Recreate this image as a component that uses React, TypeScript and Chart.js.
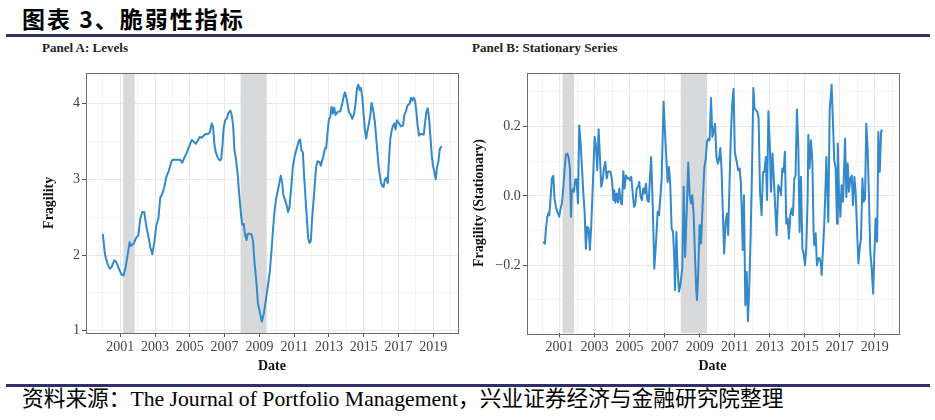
import React, { useEffect, useRef } from "react";
import { Chart, registerables } from "chart.js";

Chart.register(...registerables);

// ---------- Data ----------
const levelDates = [
  2000.0, 2000.12, 2000.27, 2000.39, 2000.5, 2000.65, 2000.77, 2000.92, 2001.08, 2001.19,
  2001.31, 2001.42, 2001.54, 2001.61, 2001.77, 2001.92, 2002.04, 2002.15, 2002.27, 2002.38,
  2002.5, 2002.61, 2002.73, 2002.84, 2002.96, 2003.07, 2003.19, 2003.3, 2003.42, 2003.53,
  2003.65, 2003.8, 2003.96, 2004.07, 2004.22, 2004.38, 2004.49, 2004.57, 2004.69, 2004.8,
  2004.95, 2005.11, 2005.22, 2005.34, 2005.45, 2005.57, 2005.68, 2005.8, 2005.91, 2006.03,
  2006.15, 2006.26, 2006.34, 2006.41, 2006.49, 2006.6, 2006.72, 2006.8, 2006.87, 2006.95,
  2007.03, 2007.14, 2007.22, 2007.33, 2007.41, 2007.49, 2007.56, 2007.64, 2007.76, 2007.83,
  2007.95, 2008.02, 2008.1, 2008.18, 2008.26, 2008.33, 2008.45, 2008.56, 2008.64, 2008.72,
  2008.83, 2008.91, 2009.02, 2009.14, 2009.25, 2009.37, 2009.48, 2009.6, 2009.71, 2009.81,
  2009.88, 2009.96, 2010.04, 2010.12, 2010.23, 2010.31, 2010.38, 2010.5, 2010.58, 2010.65,
  2010.73, 2010.84, 2010.92, 2011.04, 2011.15, 2011.27, 2011.34, 2011.42, 2011.5, 2011.57,
  2011.65, 2011.73, 2011.8, 2011.88, 2011.96, 2012.03, 2012.15, 2012.26, 2012.34, 2012.46,
  2012.53, 2012.61, 2012.69, 2012.77, 2012.84, 2012.92, 2013.0, 2013.07, 2013.15, 2013.22,
  2013.3, 2013.38, 2013.49, 2013.65, 2013.76, 2013.84, 2013.92, 2013.99, 2014.07, 2014.15,
  2014.26, 2014.34, 2014.45, 2014.53, 2014.61, 2014.69, 2014.76, 2014.84, 2014.92, 2014.99,
  2015.07, 2015.14, 2015.22, 2015.3, 2015.38, 2015.45, 2015.53, 2015.64, 2015.72, 2015.8,
  2015.87, 2015.99, 2016.07, 2016.14, 2016.22, 2016.3, 2016.38, 2016.45, 2016.53, 2016.61,
  2016.68, 2016.76, 2016.83, 2016.91, 2017.03, 2017.14, 2017.26, 2017.33, 2017.41, 2017.52,
  2017.64, 2017.72, 2017.8, 2017.87, 2017.95, 2018.02, 2018.1, 2018.18, 2018.26, 2018.33,
  2018.45, 2018.53, 2018.6, 2018.68, 2018.76, 2018.83, 2018.91, 2018.98, 2019.06, 2019.14,
  2019.21, 2019.29, 2019.37, 2019.45,
];
const levelValues = [
  2.27, 2.01, 1.88, 1.82, 1.84, 1.93, 1.91, 1.82, 1.74, 1.73,
  1.84, 2.0, 2.17, 2.12, 2.15, 2.23, 2.26, 2.48, 2.57, 2.57,
  2.37, 2.26, 2.1, 2.01, 2.17, 2.39, 2.48, 2.76, 2.81, 2.9,
  3.03, 3.12, 3.25, 3.26, 3.26, 3.26, 3.25, 3.22, 3.29, 3.34,
  3.43, 3.52, 3.5, 3.47, 3.51, 3.56, 3.55, 3.58, 3.6, 3.6,
  3.62, 3.74, 3.69, 3.47, 3.36, 3.29, 3.25, 3.26, 3.43, 3.69,
  3.78, 3.81, 3.88, 3.91, 3.85, 3.71, 3.4, 3.29, 3.05, 2.83,
  2.52, 2.4, 2.41, 2.26, 2.2, 2.28, 2.28, 2.27, 2.17, 1.9,
  1.64, 1.37, 1.25, 1.12, 1.22, 1.4, 1.58, 1.78, 2.1, 2.42,
  2.6, 2.74, 2.83, 2.92, 3.05, 2.96, 2.79, 2.71, 2.65, 2.57,
  2.63, 2.92, 3.16, 3.32, 3.41, 3.51, 3.53, 3.38, 3.36, 3.05,
  2.76, 2.48, 2.23, 2.16, 2.19, 2.48, 2.83, 3.16, 3.24, 3.23,
  3.18, 3.25, 3.32, 3.41, 3.41, 3.62, 3.8, 3.82, 3.96, 3.87,
  3.95, 3.85, 3.89, 3.9, 4.0, 4.09, 4.15, 4.09, 4.0, 3.89,
  3.85, 3.8, 3.87, 4.0, 4.2, 4.25, 4.18, 4.21, 4.07, 3.87,
  3.65, 3.54, 3.65, 3.74, 3.85, 4.01, 3.93, 3.76, 3.54, 3.32,
  3.14, 2.96, 2.91, 2.9, 3.0, 3.02, 2.95, 3.27, 3.54, 3.65,
  3.71, 3.74, 3.66, 3.78, 3.74, 3.7, 3.71, 3.85, 3.89, 3.98,
  4.0, 4.08, 4.04, 4.08, 4.04, 3.91, 3.71, 3.58, 3.6, 3.6,
  3.59, 3.76, 3.89, 3.94, 3.8, 3.58, 3.32, 3.18, 3.1, 3.0,
  3.16, 3.23, 3.4, 3.43,
];

const statDates = [
  2000.1, 2000.16, 2000.22, 2000.3, 2000.37, 2000.41, 2000.49, 2000.56, 2000.64, 2000.71,
  2000.79, 2000.87, 2000.98, 2001.06, 2001.13, 2001.21, 2001.29, 2001.36, 2001.44, 2001.51,
  2001.59, 2001.65, 2001.7, 2001.78, 2001.82, 2001.9, 2001.97, 2002.05, 2002.12, 2002.2,
  2002.28, 2002.35, 2002.43, 2002.5, 2002.58, 2002.66, 2002.73, 2002.81, 2002.89, 2003.0,
  2003.08, 2003.15, 2003.23, 2003.3, 2003.38, 2003.46, 2003.53, 2003.61, 2003.69, 2003.76,
  2003.84, 2003.91, 2003.99, 2004.07, 2004.12, 2004.18, 2004.26, 2004.33, 2004.41, 2004.49,
  2004.56, 2004.64, 2004.71, 2004.79, 2004.87, 2004.94, 2005.02, 2005.09, 2005.17, 2005.25,
  2005.32, 2005.4, 2005.48, 2005.55, 2005.63, 2005.7, 2005.78, 2005.86, 2005.93, 2006.01,
  2006.09, 2006.16, 2006.23, 2006.32, 2006.41, 2006.52, 2006.6, 2006.68, 2006.75, 2006.83,
  2006.94, 2007.02, 2007.1, 2007.17, 2007.25, 2007.32, 2007.4, 2007.48, 2007.55, 2007.59,
  2007.67, 2007.74, 2007.82, 2007.9, 2008.01, 2008.09, 2008.17, 2008.28, 2008.35, 2008.43,
  2008.51, 2008.58, 2008.66, 2008.74, 2008.81, 2008.85, 2008.92, 2009.0, 2009.08, 2009.19,
  2009.27, 2009.35, 2009.42, 2009.5, 2009.57, 2009.65, 2009.73, 2009.81, 2009.88, 2009.96,
  2010.04, 2010.1, 2010.18, 2010.25, 2010.33, 2010.4, 2010.48, 2010.56, 2010.63, 2010.71,
  2010.78, 2010.86, 2010.94, 2011.01, 2011.12, 2011.2, 2011.29, 2011.35, 2011.42, 2011.46,
  2011.53, 2011.61, 2011.69, 2011.76, 2011.84, 2011.91, 2011.99, 2012.07, 2012.14, 2012.22,
  2012.3, 2012.37, 2012.45, 2012.54, 2012.62, 2012.7, 2012.78, 2012.85, 2012.93, 2013.01,
  2013.08, 2013.16, 2013.24, 2013.31, 2013.4, 2013.49, 2013.57, 2013.65, 2013.72, 2013.8,
  2013.87, 2013.95, 2014.03, 2014.1, 2014.18, 2014.26, 2014.33, 2014.41, 2014.48, 2014.56,
  2014.64, 2014.71, 2014.79, 2014.87, 2014.94, 2015.02, 2015.09, 2015.17, 2015.21, 2015.28,
  2015.36, 2015.44, 2015.51, 2015.55, 2015.63, 2015.7, 2015.78, 2015.86, 2015.93, 2015.97,
  2016.05, 2016.12, 2016.2, 2016.24, 2016.31, 2016.35, 2016.43, 2016.5, 2016.54, 2016.62,
  2016.69, 2016.77, 2016.85, 2016.89, 2016.96, 2017.04, 2017.11, 2017.19, 2017.27, 2017.31,
  2017.38, 2017.46, 2017.53, 2017.61, 2017.69, 2017.76, 2017.84, 2017.91, 2017.99, 2018.07,
  2018.14, 2018.22, 2018.3, 2018.37, 2018.45, 2018.52, 2018.6, 2018.68, 2018.75, 2018.83,
  2018.91, 2018.98, 2019.06, 2019.14, 2019.21, 2019.29, 2019.37, 2019.4,
];
const statValues = [
  -0.134, -0.138, -0.094, -0.06, -0.048, -0.056, -0.003, 0.05, 0.058, -0.008,
  -0.032, -0.046, -0.06, -0.035, -0.022, 0.021, 0.079, 0.119, 0.122, 0.112,
  0.079, -0.06, 0.012, 0.021, 0.012, 0.048, 0.048, -0.022, 0.203, 0.151,
  0.079, 0.012, -0.046, -0.152, -0.089, -0.094, -0.156, -0.084, 0.021, 0.17,
  0.141, 0.074, 0.192, 0.117, 0.026, 0.045, 0.079, 0.098, 0.05, 0.069,
  0.071, 0.069, 0.048, -0.012, 0.016, -0.019, 0.007, -0.019, 0.021, -0.017,
  -0.025, 0.071, 0.021, 0.059, 0.05, 0.052, 0.045, 0.055, 0.012, -0.032,
  -0.027, 0.021, 0.026, 0.04, -0.003, -0.012, 0.021, 0.007, 0.035, -0.012,
  -0.017, 0.05, 0.112, -0.027, -0.21, -0.123, -0.046, -0.056, -0.008, 0.05,
  0.272, 0.184, 0.107, 0.04, 0.083, 0.035, -0.094, -0.104, -0.18, -0.271,
  -0.104, -0.209, -0.276, -0.257, -0.209, 0.026, -0.176, -0.017, 0.096, 0.002,
  -0.022, 0.002, -0.056, -0.18, -0.276, -0.3, -0.219, -0.084, -0.137, -0.003,
  0.083, 0.107, 0.155, 0.165, 0.16, 0.282, 0.17, 0.189, 0.208, 0.112,
  0.093, 0.103, 0.138, 0.079, -0.056, -0.166, -0.075, -0.051, -0.113, 0.04,
  0.165, 0.266, 0.309, 0.127, 0.098, 0.074, 0.079, 0.04, -0.065, -0.156,
  0.002, -0.315, -0.219, -0.361, -0.257, -0.123, 0.069, 0.311, 0.251, 0.247,
  0.242, 0.223, 0.012, -0.056, 0.069, 0.069, 0.112, -0.012, 0.244, 0.146,
  0.012, 0.122, 0.05, -0.027, -0.113, 0.031, 0.021, 0.002, 0.079, 0.069,
  0.127, -0.08, -0.065, -0.123, -0.056, -0.036, -0.056, 0.05, 0.059, 0.249,
  0.136, -0.104, 0.055, -0.152, -0.166, -0.2, -0.152, -0.008, 0.176, 0.079,
  0.16, 0.098, -0.104, -0.142, -0.108, -0.2, -0.18, -0.18, -0.195, -0.228,
  -0.152, -0.084, 0.04, 0.112, -0.003, -0.075, 0.247, 0.29, 0.32, 0.208,
  0.103, 0.079, -0.08, 0.151, 0.012, -0.06, 0.031, -0.017, 0.103, 0.165,
  -0.003, 0.093, 0.012, 0.05, 0.059, -0.027, 0.055, 0.012, -0.094, -0.195,
  -0.152, -0.123, 0.05, -0.017, -0.008, 0.208, 0.136, -0.017, -0.161, -0.209,
  -0.281, -0.171, -0.065, -0.132, 0.184, 0.069, 0.186, 0.189,
];

// NBER recessions (shaded bands)
const recessionStarts = [2001.17, 2007.92];
const recessionEnds = [2001.83, 2009.42];

// Axis ticks
const yearTicks = [
  2000, 2001, 2002, 2003, 2004, 2005, 2006, 2007, 2008, 2009, 2010,
  2011, 2012, 2013, 2014, 2015, 2016, 2017, 2018, 2019, 2020,
];
const levelTicks = [1, 1.5, 2, 2.5, 3, 3.5, 4];
const statTicks = [-0.3, -0.2, -0.1, 0, 0.1, 0.2, 0.3];

// Axis limits
const levelXRange = [1999.03, 2020.42];
const levelYRange = [0.97, 4.41];
const statXRange = [1999.12, 2020.35];
const statYRange = [-0.396, 0.355];

const SERIF = '"Liberation Serif", "Times New Roman", serif';
const CJK = '"Noto Sans CJK SC", "Noto Sans", sans-serif';
const BLUE = "#3389c9";
const GRID_MAJOR = "#e9e9e9";
const GRID_MINOR = "#f3f3f3";

type PanelCfg = {
  dates: number[];
  values: number[];
  yTicks: number[];
  isMajorY: (v: number) => boolean;
  fmtY: (v: number) => string;
  xRange: number[];
  yRange: number[];
  yWidth: number;
  xHeight: number;
  padTop: number;
  padRight: number;
  yTitle: string;
};

function makeChart(canvas: HTMLCanvasElement, c: PanelCfg) {
  const decor = {
    id: "panelDecor",
    beforeDatasetsDraw(chart: any) {
      const { ctx, chartArea } = chart;
      const xs = chart.scales.x;
      ctx.save();
      ctx.fillStyle = "#d8d9db";
      for (let i = 0; i < recessionStarts.length; i++) {
        const a = xs.getPixelForValue(recessionStarts[i]);
        const b = xs.getPixelForValue(recessionEnds[i]);
        ctx.fillRect(a, chartArea.top, b - a, chartArea.bottom - chartArea.top);
      }
      ctx.restore();
    },
    afterDatasetsDraw(chart: any) {
      const { ctx, chartArea } = chart;
      ctx.save();
      ctx.strokeStyle = "#6e6e6e";
      ctx.lineWidth = 1;
      ctx.strokeRect(
        Math.round(chartArea.left) + 0.5,
        Math.round(chartArea.top) + 0.5,
        Math.round(chartArea.right - chartArea.left),
        Math.round(chartArea.bottom - chartArea.top)
      );
      ctx.restore();
    },
  };

  const isMajorX = (v: number) => Math.round(v) % 2 === 1;

  return new Chart(canvas, {
    type: "line",
    data: {
      datasets: [
        {
          data: c.dates.map((d, i) => ({ x: d, y: c.values[i] })),
          borderColor: BLUE,
          borderWidth: 2,
          pointRadius: 0,
          tension: 0,
          fill: false,
          borderJoinStyle: "round",
          borderCapStyle: "round",
        },
      ],
    },
    options: {
      animation: false,
      responsive: false,
      maintainAspectRatio: false,
      events: [],
      layout: { padding: { top: c.padTop, right: c.padRight, left: 0, bottom: 0 } },
      plugins: { legend: { display: false }, tooltip: { enabled: false }, title: { display: false } },
      scales: {
        x: {
          type: "linear",
          min: c.xRange[0],
          max: c.xRange[1],
          afterBuildTicks: (s: any) => {
            s.ticks = yearTicks.map((v) => ({ value: v }));
          },
          afterFit: (s: any) => {
            s.height = c.xHeight;
          },
          ticks: {
            autoSkip: false,
            maxRotation: 0,
            minRotation: 0,
            padding: 2,
            color: "#444",
            font: { family: SERIF, size: 14 },
            callback: (v: any) => (isMajorX(Number(v)) ? String(v) : ""),
          },
          grid: {
            color: (ctx: any) => (ctx.tick && isMajorX(ctx.tick.value) ? GRID_MAJOR : GRID_MINOR),
            lineWidth: 1,
            tickLength: 4,
            tickWidth: 1,
            tickColor: (ctx: any) =>
              ctx.tick && isMajorX(ctx.tick.value) ? "#555" : "rgba(0,0,0,0)",
          },
          border: { display: false },
          title: {
            display: true,
            text: "Date",
            color: "#111",
            font: { family: SERIF, size: 14, weight: "bold" },
            padding: { top: 0, bottom: 4.9 },
          },
        },
        y: {
          type: "linear",
          min: c.yRange[0],
          max: c.yRange[1],
          afterBuildTicks: (s: any) => {
            s.ticks = c.yTicks.map((v) => ({ value: v }));
          },
          afterFit: (s: any) => {
            s.width = c.yWidth;
          },
          ticks: {
            padding: 2,
            color: "#444",
            font: { family: SERIF, size: 14 },
            callback: (v: any) => (c.isMajorY(Number(v)) ? c.fmtY(Number(v)) : ""),
          },
          grid: {
            color: (ctx: any) => (ctx.tick && c.isMajorY(ctx.tick.value) ? GRID_MAJOR : GRID_MINOR),
            lineWidth: 1,
            tickLength: 4,
            tickWidth: 1,
            tickColor: (ctx: any) =>
              ctx.tick && c.isMajorY(ctx.tick.value) ? "#555" : "rgba(0,0,0,0)",
          },
          border: { display: false },
          title: {
            display: true,
            text: c.yTitle,
            color: "#111",
            font: { family: SERIF, size: 14, weight: "bold" },
            padding: { top: 10.6, bottom: 0 },
          },
        },
      },
    } as any,
    plugins: [decor],
  });
}

export default function App() {
  const refA = useRef<HTMLCanvasElement | null>(null);
  const refB = useRef<HTMLCanvasElement | null>(null);

  useEffect(() => {
    if (!refA.current || !refB.current) return;
    const a = makeChart(refA.current, {
      dates: levelDates,
      values: levelValues,
      yTicks: levelTicks,
      isMajorY: (v) => Math.abs(v - Math.round(v)) < 1e-6,
      fmtY: (v) => String(Math.round(v)),
      xRange: levelXRange,
      yRange: levelYRange,
      yWidth: 56,
      xHeight: 47,
      padTop: 12.7,
      padRight: 12,
      yTitle: "Fragility",
    });
    const b = makeChart(refB.current, {
      dates: statDates,
      values: statValues,
      yTicks: statTicks,
      isMajorY: (v) => Math.round(v * 10) % 2 === 0,
      fmtY: (v) => (Math.abs(v) < 1e-9 ? "0.0" : v < 0 ? "\u2212" + Math.abs(v).toFixed(1) : v.toFixed(1)),
      xRange: statXRange,
      yRange: statYRange,
      yWidth: 66.7,
      xHeight: 46.7,
      padTop: 12.7,
      padRight: 11.7,
      yTitle: "Fragility (Stationary)",
    });
    return () => {
      a.destroy();
      b.destroy();
    };
  }, []);

  const navy = "#2f2f6a";

  return (
    <div
      style={{
        position: "absolute",
        left: 0,
        top: 0,
        width: 935,
        height: 420,
        background: "#fff",
        overflow: "hidden",
      }}
    >
      <div
        style={{
          position: "absolute",
          left: 22,
          top: 6.5,
          fontFamily: CJK,
          fontWeight: 700,
          fontSize: 23,
          lineHeight: "23px",
          letterSpacing: 2,
          color: "#000",
          whiteSpace: "nowrap",
        }}
      >
        图表 3、脆弱性指标
      </div>
      <div style={{ position: "absolute", left: 6, top: 34, width: 924, height: 2.5, background: navy }} />
      <div style={{ position: "absolute", left: 6, top: 33.5, width: 12, height: 3.5, background: navy }} />

      <div
        style={{
          position: "absolute",
          left: 42,
          top: 40.8,
          fontFamily: SERIF,
          fontWeight: 700,
          fontSize: 13,
          lineHeight: "13px",
          color: "#222",
          whiteSpace: "nowrap",
        }}
      >
        Panel A: Levels
      </div>
      <div
        style={{
          position: "absolute",
          left: 472,
          top: 40.8,
          fontFamily: SERIF,
          fontWeight: 700,
          fontSize: 13,
          lineHeight: "13px",
          color: "#222",
          whiteSpace: "nowrap",
        }}
      >
        Panel B: Stationary Series
      </div>

      <canvas
        ref={refA}
        width={440}
        height={320}
        style={{ position: "absolute", left: 30, top: 60, width: 440, height: 320 }}
      />
      <canvas
        ref={refB}
        width={450}
        height={320}
        style={{ position: "absolute", left: 460, top: 60, width: 450, height: 320 }}
      />

      <div style={{ position: "absolute", left: 6, top: 384, width: 924, height: 2.5, background: navy }} />
      <div style={{ position: "absolute", left: 6, top: 383.5, width: 12, height: 3.5, background: navy }} />

      <div
        style={{
          position: "absolute",
          left: 22,
          top: 388.7,
          fontFamily: '"Liberation Serif", "Noto Sans CJK SC", serif',
          fontSize: 21.7,
          lineHeight: "21.7px",
          color: "#000",
          whiteSpace: "nowrap",
        }}
      >
        资料来源：The Journal of Portfolio Management，兴业证券经济与金融研究院整理
      </div>
    </div>
  );
}
